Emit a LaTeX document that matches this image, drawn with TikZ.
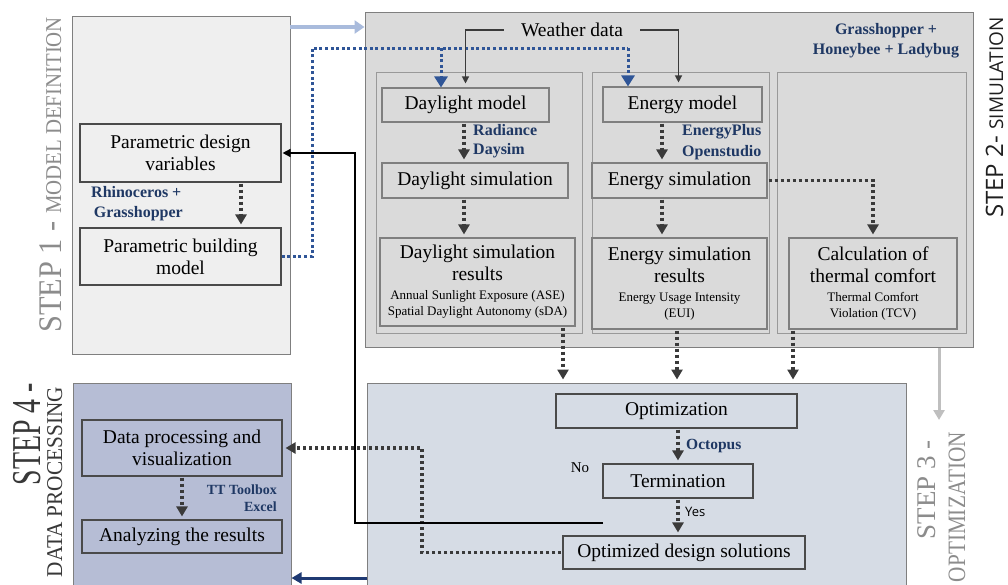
\documentclass[tikz,border=0pt]{standalone}
\usepackage{fontspec}
\setmainfont{Liberation Serif}
\newfontfamily\sansfont{Open Sans}
\usepackage{graphicx}
\usetikzlibrary{arrows.meta,calc}

\definecolor{defgray}{HTML}{EFEFEF}
\definecolor{simgray}{HTML}{DADADA}
\definecolor{optblue}{HTML}{D6DCE5}
\definecolor{procblue}{HTML}{B6BDD5}
\definecolor{framegray}{HTML}{7F7F7F}
\definecolor{celline}{HTML}{4A4A4A}
\definecolor{toolblue}{HTML}{1F3864}
\definecolor{dotblue}{HTML}{2F5597}
\definecolor{flowgray}{HTML}{3A3A3A}
\definecolor{labelgray}{HTML}{8C8C8C}
\definecolor{paleblue}{HTML}{A9BBDC}
\definecolor{deepblue}{HTML}{1F3A73}
\definecolor{lightgray}{HTML}{BFBFBF}

\newcommand\boxfont{\fontsize{19.5}{22}\selectfont}
\newcommand\notefont{\fontsize{13}{16}\selectfont}
\newcommand\toolfont{\fontsize{16}{20}\selectfont\bfseries}

\tikzset{
  sized/.style 2 args={minimum width=#1pt, minimum height=#2pt},
  stage/.style={draw=framegray, line width=1pt, inner sep=0pt},
  cell/.style={draw=celline, line width=1.1pt, inner sep=1pt, align=center, font=\boxfont},
  tool/.style={text=toolblue, font=\toolfont, inner sep=0pt},
  flow/.style={draw=flowgray, line width=3.2pt, dash pattern=on 3.2pt off 2.8pt,
    -{Triangle[width=11pt,length=10pt]}, shorten <=1pt, shorten >=3pt},
  bluedots/.style={draw=dotblue, line width=3pt, dash pattern=on 3pt off 2.6pt},
  wire/.style={draw=flowgray, line width=1.2pt, -{Triangle[width=7pt,length=7pt]}, shorten >=4pt},
  steplabel/.style={rotate=90, inner sep=0pt}
}

\begin{document}
\begin{tikzpicture}[x=1pt,y=-1pt]
  \useasboundingbox (0,0) rectangle (1008,584);
  \clip (0,0) rectangle (1008,584);

  %% stages
  \node[stage, fill=defgray, sized={218}{338}] (defbox) at (181,185) {};
  \node[stage, fill=simgray, sized={608}{335}] (simbox) at (669,179.5) {};
  \node[stage, fill=optblue, sized={539}{220}] (optbox) at (636.5,493) {};
  \node[stage, fill=procblue, sized={218}{220}] (procbox) at (182,493) {};

  %% step 1
  \node[cell, sized={201}{58}] (vars) at (180.5,153) {Parametric design\\variables};
  \node[cell, sized={201}{57}] (bmodel) at (180.5,256.5) {Parametric building\\model};
  \node[tool, align=left, anchor=west] (rhino) at (91,204) {Rhinoceros +\\\,Grasshopper};

  %% step 2
  \node[stage, fill=simgray, draw=framegray!80, sized={206}{261}] (dlcol) at (479,202.5) {};
  \node[stage, fill=simgray, draw=framegray!80, sized={177}{261}] (encol) at (680.5,202.5) {};
  \node[stage, fill=simgray, draw=framegray!80, sized={189}{261}] (tccol) at (871.5,202.5) {};
  \node[font=\boxfont, inner xsep=17pt] (weather) at (572,30) {Weather data};
  \node[tool, align=center] (ghtools) at (886,41) {Grasshopper +\\Honeybee + Ladybug};
  \node[cell, draw=framegray, sized={167}{34}] (dlmodel) at (465.5,105) {Daylight model};
  \node[cell, draw=framegray, sized={186}{35}] (dlsim) at (475,180.5) {Daylight simulation};
  \node[cell, draw=framegray, sized={195}{88}] (dlres) at (477.5,282)
    {Daylight simulation\\results\\[-3pt]\notefont Annual Sunlight Exposure (ASE)\\[-6pt]\notefont Spatial Daylight Autonomy (sDA)};
  \node[cell, draw=framegray, sized={159}{35}] (enmodel) at (682.5,104.5) {Energy model};
  \node[cell, draw=framegray, sized={175}{35}] (ensim) at (679.5,180.5) {Energy simulation};
  \node[cell, draw=framegray, sized={175}{91}] (enres) at (679.5,283.5)
    {Energy simulation\\results\\[-3pt]\notefont Energy Usage Intensity\\[-6pt]\notefont (EUI)};
  \node[cell, draw=framegray, sized={168}{91}] (comfort) at (873,283.5)
    {Calculation of\\thermal comfort\\[-3pt]\notefont Thermal Comfort\\[-6pt]\notefont Violation (TCV)};
  \node[tool, align=left, anchor=west] (radiance) at (473,141.5) {Radiance\\[-1pt]Daysim};
  \node[tool, align=left, anchor=west] (eplus) at (682,142.5) {EnergyPlus\\[1pt]Openstudio};

  %% step 3
  \node[cell, sized={241}{34}] (optim) at (676.5,411) {Optimization};
  \node[cell, sized={150}{34}] (term) at (678,481) {Termination};
  \node[cell, sized={242}{33}] (solutions) at (684,552.5) {Optimized design solutions};
  \node[tool, font=\fontsize{15.5}{18}\selectfont\bfseries, anchor=west] (octopus) at (686,446) {Octopus};
  \node[font=\sansfont\fontsize{13}{15}\selectfont, inner sep=0pt, anchor=west] (yes) at (685,512) {Yes};
  \node[font=\fontsize{15}{18}\selectfont, inner sep=0pt] (no) at (580,468) {No};

  %% step 4
  \node[cell, sized={200}{56}] (dataproc) at (182,448) {Data processing and\\visualization};
  \node[cell, sized={200}{33}] (analyze) at (182,536.5) {Analyzing the results};
  \node[tool, font=\fontsize{14}{17}\selectfont\bfseries, align=right, anchor=east] (tt) at (277,498.5) {TT Toolbox\\Excel};

  %% step labels
  \node[steplabel, anchor=base west, text=labelgray] (lab1) at (61,333)
    {\scalebox{0.92}[1]{\fontsize{33}{33}\selectfont STEP 1 - \fontsize{22.6}{24}\selectfont MODEL DEFINITION}};
  \node[steplabel, anchor=base west, text=black!88] (lab2) at (1003,218)
    {\sansfont\fontsize{24}{25}\selectfont STEP 2- \fontsize{19}{20}\selectfont SIMULATION};
  \node[steplabel, anchor=base east, text=labelgray] (lab3a) at (935,440)
    {\fontsize{27}{28}\selectfont STEP 3 -};
  \node[steplabel, anchor=base east, text=labelgray] (lab3b) at (965,432)
    {\scalebox{0.85}[1]{\fontsize{25}{26}\selectfont OPTIMIZATION}};
  \node[steplabel, anchor=base east, text=black!78] (lab4a) at (40,383)
    {\scalebox{0.68}[1]{\fontsize{41}{42}\selectfont STEP 4 -}};
  \node[steplabel, anchor=base east, text=black!78] (lab4b) at (62,387)
    {\scalebox{0.94}[1]{\fontsize{22.6}{24}\selectfont DATA PROCESSING}};

  %% helper points
  \coordinate (px) at (241,0);
  \coordinate (dx) at (464,0);
  \coordinate (ex) at (662,0);
  \coordinate (fa) at (563,0);
  \coordinate (fb) at (677,0);
  \coordinate (fc) at (793,0);
  \coordinate (bcorner) at (312,48);
  \coordinate (bsplit) at (441,48);
  \coordinate (bend) at (628,48);
  \coordinate (noend) at (603,523);
  \coordinate (fbx) at (355,0);
  \coordinate (sx) at (422,0);
  \coordinate (pale) at (290,27);
  \coordinate (gx) at (939,0);
  \coordinate (gend) at (939,420);
  \coordinate (deep) at (367,578);

  %% stage arrows
  \draw[paleblue, line width=4pt, -{Triangle[width=13pt,length=10pt]}] (pale) -- (pale -| simbox.west);
  \draw[lightgray, line width=3pt, -{Triangle[width=11pt,length=10pt]}] (gx |- simbox.south) -- (gend);
  \draw[deepblue, line width=3pt, -{Triangle[width=11pt,length=10pt]}] (deep) -- (deep -| procbox.east);

  %% model to simulations
  \draw[bluedots] (bmodel.east) -| (bcorner) -- (bend);
  \draw[bluedots, -{Triangle[width=13pt,length=11pt]}] (bsplit) -- (bsplit |- dlmodel.north);
  \draw[bluedots, -{Triangle[width=13pt,length=11pt]}] (bend) -- (bend |- enmodel.north);
  \draw[wire] (weather.west) -| (dlmodel.north);
  \draw[wire] (weather.east) -| ($(enmodel.north)+(-4,0)$);

  %% dotted flows
  \draw[flow] (px |- vars.south) -- (px |- bmodel.north);
  \draw[flow] (dx |- dlmodel.south) -- (dx |- dlsim.north);
  \draw[flow] (dx |- dlsim.south) -- (dx |- dlres.north);
  \draw[flow] (ex |- enmodel.south) -- (ex |- ensim.north);
  \draw[flow] (ex |- ensim.south) -- (ex |- enres.north);
  \draw[flow] (ensim.east) -| (comfort.north);
  \draw[flow] (fa |- dlres.south) -- (fa |- optbox.north);
  \draw[flow] (fb |- enres.south) -- (fb |- optbox.north);
  \draw[flow] (fc |- comfort.south) -- (fc |- optbox.north);
  \draw[flow] (term.north |- optim.south) -- (term.north);
  \draw[flow] (term.south) -- (term.south |- solutions.north);
  \draw[flow] (solutions.west) -- (solutions.west -| sx) -- (sx |- dataproc.east) -- (dataproc.east);
  \draw[flow] (dataproc.south) -- (analyze.north);

  %% feedback loop
  \draw[black, line width=1.5pt, -{Triangle[width=8pt,length=8pt]}, shorten >=1pt]
    (noend) -- (noend -| fbx) -- (fbx |- vars.east) -- (vars.east);
\end{tikzpicture}
\end{document}
